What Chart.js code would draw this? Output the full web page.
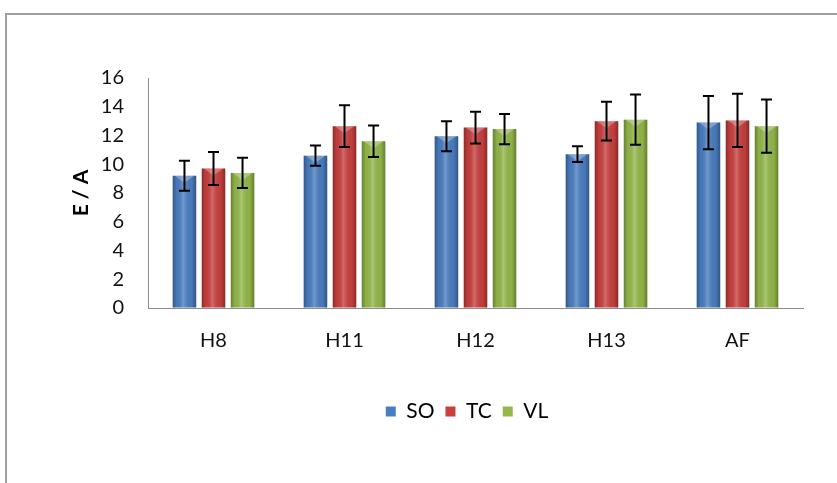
<!DOCTYPE html>
<html>
<head>
<meta charset="utf-8">
<script src="https://cdn.jsdelivr.net/npm/chart.js@4.4.1/dist/chart.umd.min.js"></script>
<style>
  html, body { margin: 0; padding: 0; background: #fff; overflow: hidden; }
  #frame { position: absolute; left: 5px; top: 13px; width: 900px; height: 600px;
           border-left: 2px solid #a0a0a0; border-top: 2px solid #a0a0a0; }
  #wrap { position: absolute; left: 0; top: 0; width: 837px; height: 483px; }
</style>
</head>
<body>
<div id="frame"></div>
<div id="wrap"><canvas id="chart" width="837" height="483"></canvas></div>
<script>
/* E / A per group, with error bars */

const categories = ['H8', 'H11', 'H12', 'H13', 'AF'];
const soValues   = [9.2, 10.6, 11.95, 10.7, 12.9];
const soErrors   = [1.05, 0.7, 1.05, 0.55, 1.85];
const tcValues   = [9.7, 12.65, 12.55, 13.0, 13.05];
const tcErrors   = [1.15, 1.45, 1.1, 1.35, 1.85];
const vlValues   = [9.4, 11.6, 12.45, 13.1, 12.65];
const vlErrors   = [1.05, 1.1, 1.05, 1.75, 1.85];
const yTicks     = [0, 2, 4, 6, 8, 10, 12, 14, 16];

const FONT = 'Lato';

// shading on each bar (Excel-ish bevel) + the error bars on top
const barDecor = {
  id: 'barDecor',
  afterDatasetsDraw(chart) {
    const { ctx } = chart;
    const y = chart.scales.y;
    chart.data.datasets.forEach((ds, i) => {
      const meta = chart.getDatasetMeta(i);
      meta.data.forEach((bar, j) => {
        const left = bar.x - bar.width / 2, right = bar.x + bar.width / 2;
        const top = bar.y, base = bar.base;

        const g = ctx.createLinearGradient(left, 0, right, 0);
        g.addColorStop(0,    'rgba(0,0,0,0.30)');
        g.addColorStop(0.18, 'rgba(0,0,0,0.04)');
        g.addColorStop(0.45, 'rgba(255,255,255,0.22)');
        g.addColorStop(0.8,  'rgba(0,0,0,0.04)');
        g.addColorStop(1,    'rgba(0,0,0,0.32)');
        ctx.save();
        ctx.fillStyle = g;
        ctx.fillRect(left, top, right - left, base - top);

        // light V on the top face
        ctx.fillStyle = 'rgba(255,255,255,0.28)';
        ctx.beginPath();
        ctx.moveTo(left + 2, top);
        ctx.lineTo(right - 2, top);
        ctx.lineTo(bar.x, top + 7);
        ctx.closePath();
        ctx.fill();

        // error bar
        const v = ds.data[j], e = ds.errors[j];
        const yt = y.getPixelForValue(v + e), yb = y.getPixelForValue(v - e);
        ctx.strokeStyle = '#000';
        ctx.lineWidth = 2;
        ctx.beginPath();
        ctx.moveTo(bar.x, yt); ctx.lineTo(bar.x, yb);
        ctx.moveTo(bar.x - 5.5, yt); ctx.lineTo(bar.x + 5.5, yt);
        ctx.moveTo(bar.x - 5.5, yb); ctx.lineTo(bar.x + 5.5, yb);
        ctx.stroke();
        ctx.restore();
      });
    });
  }
};

// the legend sits a bit right of centre in the original
const legendShift = {
  id: 'legendShift',
  afterLayout(chart) {
    chart.legend.left += 31;
    chart.legend.right += 31;
  }
};

const mk = (label, data, errors, color) => ({
  label, data, errors,
  backgroundColor: color,
  borderWidth: 0,
  categoryPercentage: 0.665,
  barPercentage: 0.81,
});

new Chart(document.getElementById('chart'), {
  type: 'bar',
  data: {
    labels: categories,
    datasets: [
      mk('SO', soValues, soErrors, '#4a7ec2'),
      mk('TC', tcValues, tcErrors, '#c9403e'),
      mk('VL', vlValues, vlErrors, '#94b94a'),
    ],
  },
  options: {
    responsive: false,
    animation: false,
    layout: { padding: { left: 69, top: 78, right: 34, bottom: 51 } },
    plugins: {
      legend: {
        position: 'bottom',
        labels: {
          boxWidth: 10, boxHeight: 10, padding: 11,
          color: '#000',
          font: { family: FONT, size: 21 },
        },
      },
      tooltip: { enabled: false },
    },
    scales: {
      x: {
        grid: { display: true, drawOnChartArea: false, drawTicks: false },
        border: { color: '#8c8c8c', width: 1 },
        ticks: { padding: 21, color: '#111', font: { family: FONT, size: 20 } },
        afterFit(s) { s.height = 82; },
      },
      y: {
        min: 0, max: 16,
        afterBuildTicks(s) { s.ticks = yTicks.map(v => ({ value: v })); },
        grid: { display: true, drawOnChartArea: false, drawTicks: false },
        border: { color: '#8c8c8c', width: 1 },
        ticks: { padding: 24, color: '#111', font: { family: FONT, size: 20 } },
        title: {
          display: true, text: 'E / A', color: '#000',
          padding: 0,
          font: { family: FONT, size: 21, weight: 'bold' },
        },
        afterFit(s) { s.width = 79; },
      },
    },
  },
  plugins: [barDecor, legendShift],
});
</script>
</body>
</html>
